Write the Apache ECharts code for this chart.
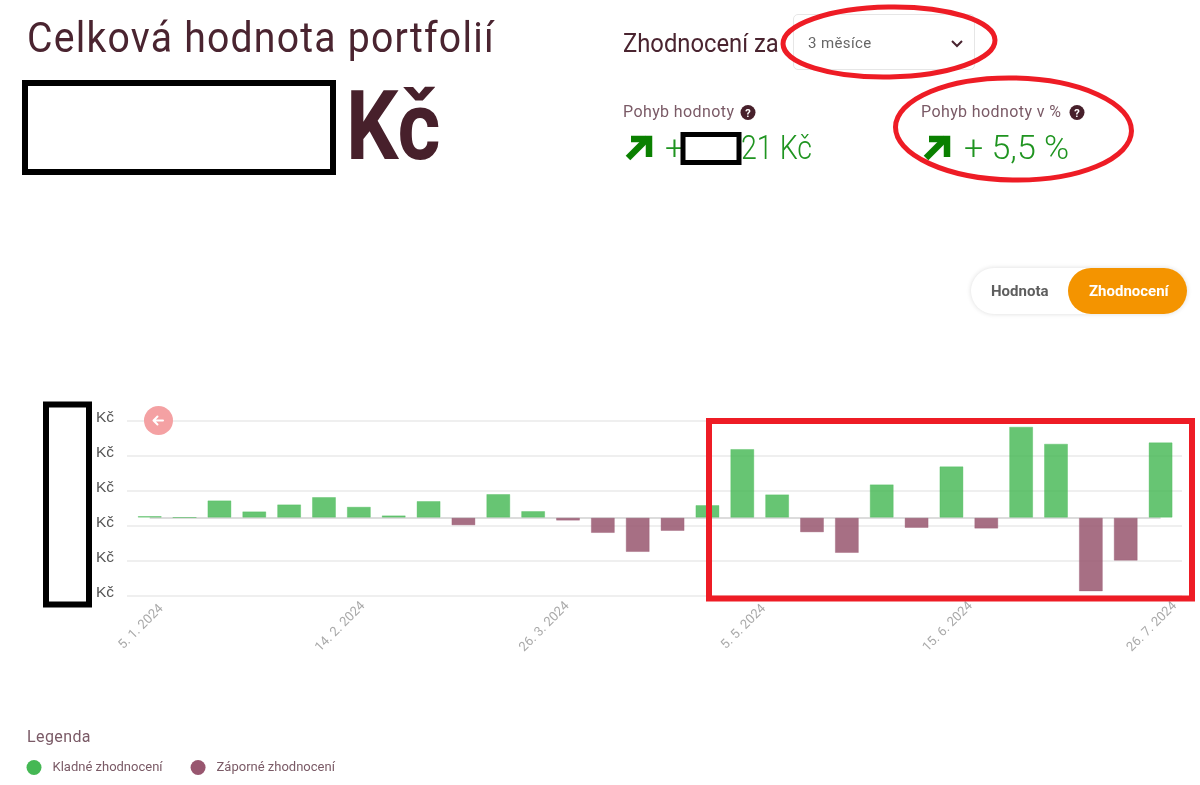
<!DOCTYPE html>
<html lang="cs">
<head>
<meta charset="utf-8">
<title>Celková hodnota portfolií</title>
<script src="https://cdn.jsdelivr.net/npm/echarts@6/dist/echarts.min.js"></script>
<style>
  html, body { margin: 0; padding: 0; background: #fff; }
  #page { position: relative; width: 1200px; height: 785px; overflow: hidden; font-family: Roboto, sans-serif; color: #4a2430; }
  #chart { position: absolute; left: 0; top: 0; width: 1200px; height: 785px; }
  .t { position: absolute; white-space: nowrap; line-height: 1; transform-origin: 0 50%; }
  .title { left: 27px; top: 17px; font-size: 42px; letter-spacing: 1.3px; transform: scaleX(.933); }
  .currency { left: 346px; top: 78px; font-weight: 700; font-size: 96px; color: #47202b; transform: scaleX(.86); }
  .period { left: 623px; top: 30px; font-size: 26px; transform: scaleX(.915); }
  .select { position: absolute; left: 793px; top: 14px; width: 182px; height: 56px; border: 1px solid #e6e6e6; border-radius: 5px; box-sizing: border-box; }
  .selected { left: 808px; top: 36px; font-size: 15px; color: #666; letter-spacing: .4px; }
  .small { font-size: 16px; color: #7a5a66; letter-spacing: .4px; }
  .gain { font-size: 34px; font-weight: 300; color: #1f9420; }
  .toggle { position: absolute; left: 971px; top: 268px; width: 216px; height: 46px; border-radius: 23px; background: #fff; box-shadow: 0 0 5px rgba(0,0,0,.14); }
  .toggle i { position: absolute; left: 97px; top: 0; width: 119px; height: 46px; border-radius: 23px; background: #f49400; }
  .tab { font-size: 15px; font-weight: 700; top: 284px; }
  .back { position: absolute; left: 144px; top: 406px; width: 29px; height: 29px; border-radius: 50%; background: #f4a1a3; }
  .legend-title { left: 27px; top: 729px; font-size: 16px; color: #7a5a66; letter-spacing: .4px; }
  svg.overlay { position: absolute; left: 0; top: 0; }
</style>
</head>
<body>
<div id="page">
  <div id="chart"></div>

  <div class="t title">Celková hodnota portfolií</div>
  <div class="t currency">Kč</div>

  <div class="t period">Zhodnocení za</div>
  <div class="select"></div>
  <div class="t selected">3 měsíce</div>

  <div class="t small" style="left:623px;top:104px">Pohyb hodnoty</div>
  <div class="t small" style="left:921px;top:104px">Pohyb hodnoty v %</div>
  <div class="t gain" style="left:665px;top:130px">+</div>
  <div class="t gain" style="left:741px;top:130px;transform:scaleX(.84)">21 Kč</div>
  <div class="t gain" style="left:964px;top:130px">+ 5,5 %</div>

  <div class="toggle"><i></i></div>
  <div class="t tab" style="left:991px;color:#5e5e5e">Hodnota</div>
  <div class="t tab" style="left:1089px;color:#fff">Zhodnocení</div>

  <div class="back"></div>
  <div class="t legend-title">Legenda</div>

  <svg class="overlay" width="1200" height="785" viewBox="0 0 1200 785" fill="none">
    <!-- back arrow -->
    <path d="M163 420.5h-9M157.5 416.5l-4 4 4 4" stroke="#fff" stroke-width="2" stroke-linecap="round" stroke-linejoin="round"/>
    <!-- select chevron -->
    <path d="M952 41l5 5 5-5" stroke="#4a2430" stroke-width="2"/>
    <!-- help icons -->
    <g font-family="Roboto, sans-serif" font-size="11" font-weight="700" text-anchor="middle">
      <circle cx="748" cy="112.500" r="7.500" fill="#47202b"/><text x="748" y="116.500" fill="#fff">?</text>
      <circle cx="1077" cy="112.500" r="7.500" fill="#47202b"/><text x="1077" y="116.500" fill="#fff">?</text>
    </g>
    <!-- gain arrows -->
    <g stroke="#0a8000" stroke-width="6.500">
      <path d="M628 158l20-20"/><path d="M631 139h18v18"/>
      <path d="M926 158l20-20"/><path d="M929 139h18v18"/>
    </g>
    <!-- redaction boxes -->
    <g stroke="#000" stroke-width="6" fill="#fff">
      <rect x="25" y="83" width="308" height="89"/>
      <rect x="683" y="134.500" width="56" height="28" stroke-width="5"/>
      <rect x="46" y="404.500" width="43" height="200"/>
    </g>
    <!-- highlights -->
    <g stroke="#ee1c25" stroke-width="5">
      <ellipse cx="889" cy="42" rx="106" ry="35" transform="rotate(-1 889 42)"/>
      <ellipse cx="1013.500" cy="129" rx="118" ry="51" transform="rotate(1 1013 129)"/>
      <rect x="709" y="421" width="483" height="177.500" stroke-width="6"/>
    </g>
  </svg>
</div>

<script>
// Weekly change of portfolio value
const weeks = ['2024-01-05','2024-01-12','2024-01-19','2024-01-26','2024-02-02','2024-02-09',
  '2024-02-16','2024-02-23','2024-03-01','2024-03-08','2024-03-15','2024-03-22',
  '2024-03-29','2024-04-05','2024-04-12','2024-04-19','2024-04-26','2024-05-03',
  '2024-05-10','2024-05-17','2024-05-24','2024-05-31','2024-06-07','2024-06-14',
  '2024-06-21','2024-06-28','2024-07-05','2024-07-12','2024-07-19','2024-07-26'];
const changes = [480, 100, 4970, 1820, 3820, 5930, 3150, 670, 4780, -2200,
  6790, 1910, -860, -4400, -9850, -3820, 3630, 19700, 6690, -4210,
  -10130, 9560, -2960, 14720, -3150, 26100, 21220, -21130, -12330, 21600];
const xTickDates = ['2024-01-05','2024-02-14','2024-03-26','2024-05-05','2024-06-15','2024-07-26'];
const yTicks = [-22280, -12280, -2280, 7720, 17720, 27720];
const seriesNames = ['Kladné zhodnocení', 'Záporné zhodnocení'];

const DAY = 86400000;
const stamp = s => { const [y, m, d] = s.split('-').map(Number); return new Date(y, m - 1, d).getTime(); };
const points = weeks.map((w, i) => [stamp(w), changes[i]]);

const chart = echarts.init(document.getElementById('chart'));
chart.setOption({
  animation: false,
  grid: { left: 127, right: 18, top: 421, height: 174.4, containLabel: false },
  legend: {
    left: 21.5, top: 755, icon: 'circle', itemWidth: 15, itemHeight: 15, itemGap: 28,
    data: [
      { name: seriesNames[0], itemStyle: { color: '#45b854', borderWidth: 0 } },
      { name: seriesNames[1], itemStyle: { color: '#98566f', borderWidth: 0 } }
    ],
    textStyle: { color: '#7a5a66', fontFamily: 'Roboto, sans-serif', fontSize: 13, padding: [0, 0, 0, 6] }
  },
  xAxis: {
    // Dates are kept as timestamps so the labels can fall on the 40/41-day steps
    type: 'value',
    min: stamp(weeks[0]) - 4.56 * DAY,
    max: stamp(weeks[weeks.length - 1]) + 4.3 * DAY,
    axisLine: { show: false },
    axisTick: { show: false },
    splitLine: { show: false },
    axisLabel: {
      customValues: xTickDates.map(stamp),
      rotate: 45, align: 'center', verticalAlign: 'middle', margin: 23,
      padding: [0, 24, 0, 0],
      color: '#a9a9a9', fontSize: 13, fontFamily: 'Roboto, sans-serif',
      hideOverlap: false,
      formatter: v => { const d = new Date(v); return `${d.getDate()}. ${d.getMonth() + 1}. ${d.getFullYear()}`; }
    }
  },
  yAxis: {
    type: 'value',
    min: yTicks[0],
    max: yTicks[yTicks.length - 1],
    axisLine: { show: false },
    axisTick: { show: false, customValues: yTicks },
    splitLine: { show: true, lineStyle: { color: '#efefef', width: 2 } },
    axisLabel: {
      customValues: yTicks, margin: 13, verticalAlign: 'bottom', lineHeight: 6,
      color: '#555', fontSize: 15.5, fontFamily: '"Liberation Sans", Arial, sans-serif',
      formatter: () => 'Kč'
    }
  },
  series: [
    {
      name: seriesNames[0], type: 'bar', z: 3, barWidth: 24, barGap: '-100%',
      itemStyle: { color: 'rgba(69,184,84,.82)', borderColor: 'rgba(69,184,84,.35)', borderWidth: 1 },
      data: points.filter(p => p[1] >= 0),
      markLine: {
        silent: true, z: 1, symbol: 'none', label: { show: false },
        lineStyle: { color: '#dcdcdc', width: 2, type: 'solid' },
        data: [[{ coord: [points[0][0], 0] }, { coord: [points[points.length - 1][0], 0] }]]
      }
    },
    {
      name: seriesNames[1], type: 'bar', z: 3, barWidth: 24, barGap: '-100%',
      itemStyle: { color: 'rgba(152,86,111,.85)', borderColor: 'rgba(152,86,111,.35)', borderWidth: 1 },
      data: points.filter(p => p[1] < 0)
    }
  ]
});
</script>
</body>
</html>
